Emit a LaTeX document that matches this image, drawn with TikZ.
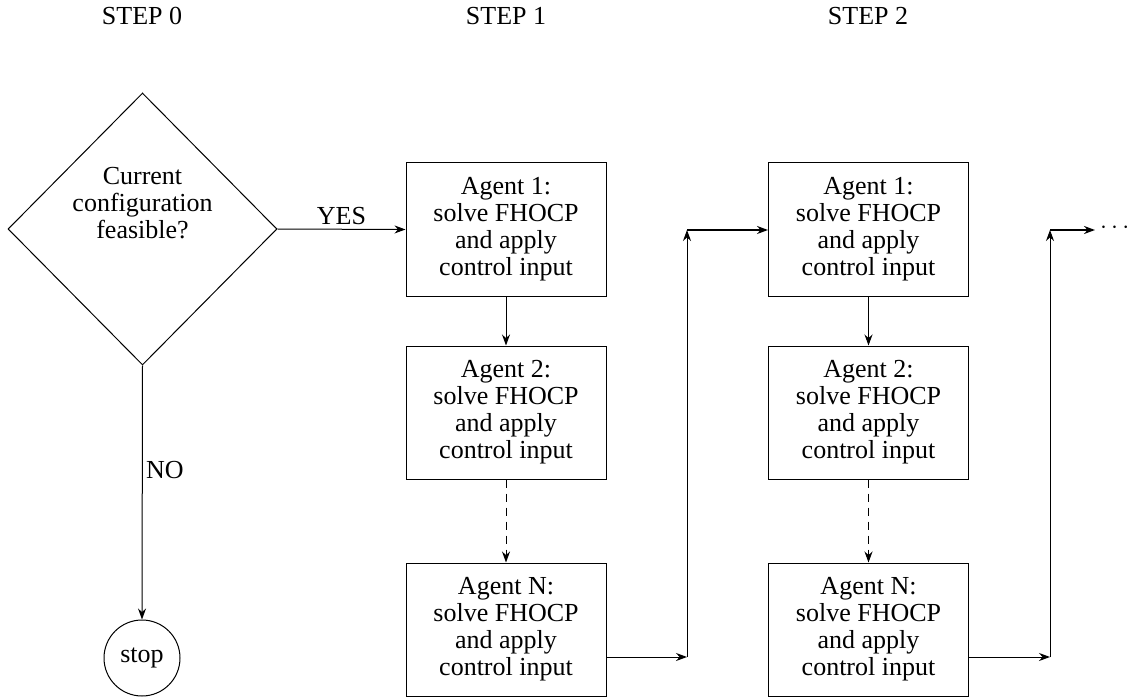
\documentclass[tikz,border=0pt]{standalone}
\usepackage{fontspec}
\setmainfont{Liberation Serif}
\usetikzlibrary{shapes.geometric,arrows.meta}
\begin{document}
\begin{tikzpicture}[x=1pt,y=-1pt,
  every node/.style={font=\fontsize{26}{27}\selectfont},
  agent/.style={draw,line width=1pt,minimum width=200pt,minimum height=133pt,align=center,inner sep=0pt},
  conn/.style={line width=1pt,-{Stealth[length=11pt,width=8pt]}},
  thick conn/.style={line width=2pt,-{Stealth[length=11pt,width=8pt]}},
  steplabel/.style={anchor=center}]
\useasboundingbox (0,0) rectangle (1139,700);
\node[steplabel] (s0) at (142,16) {STEP 0};
\node[steplabel] (s1) at (506,16) {STEP 1};
\node[steplabel] (s2) at (868,16) {STEP 2};
\node[draw,diamond,aspect=1,line width=1pt,inner sep=0pt,minimum width=269pt,minimum height=272pt] (dia) at (142.5,229) {};
\node[align=center] (dtext) at (142.5,203) {Current\\configuration\\feasible?};
\node[draw,circle,line width=1pt,minimum size=76pt,inner sep=0pt] (stop) at (142,658) {stop};
\node[agent] (a1) at (506,229.5) {Agent 1:\\solve FHOCP\\and apply\\control input};
\node[agent] (a2) at (506,412.5) {Agent 2:\\solve FHOCP\\and apply\\control input};
\node[agent] (an) at (506,629.5) {Agent N:\\solve FHOCP\\and apply\\control input};
\node[agent] (b1) at (868.5,229.5) {Agent 1:\\solve FHOCP\\and apply\\control input};
\node[agent] (b2) at (868.5,412.5) {Agent 2:\\solve FHOCP\\and apply\\control input};
\node[agent] (bn) at (868.5,629.5) {Agent N:\\solve FHOCP\\and apply\\control input};
\coordinate (c1) at (687,657);
\coordinate (c2) at (687,230);
\coordinate (d1) at (1050,657);
\coordinate (d2) at (1050,230);
\coordinate (d3) at (1095,230);
\node[anchor=west,inner sep=0pt] (dots) at (1100,228) {$\cdots$};
\draw[conn] (dia.east) -- node[above,yshift=1pt] (yes) {YES} (a1.west);
\draw[conn] (dia.south) -- node[right,pos=0.41,xshift=0pt] (no) {NO} (stop.north);
\draw[conn] (a1) -- (a2);
\draw[conn,dashed,dash pattern=on 8pt off 6pt] (a2) -- (an);
\draw[conn] (b1) -- (b2);
\draw[conn,dashed,dash pattern=on 8pt off 6pt] (b2) -- (bn);
\draw[conn] (an.east |- c1) -- (c1);
\draw[conn] (c1) -- (c2);
\draw[thick conn] (c2) -- (b1.west |- c2);
\draw[conn] (bn.east |- d1) -- (d1);
\draw[conn] (d1) -- (d2);
\draw[thick conn] (d2) -- (d3);
\end{tikzpicture}
\end{document}
